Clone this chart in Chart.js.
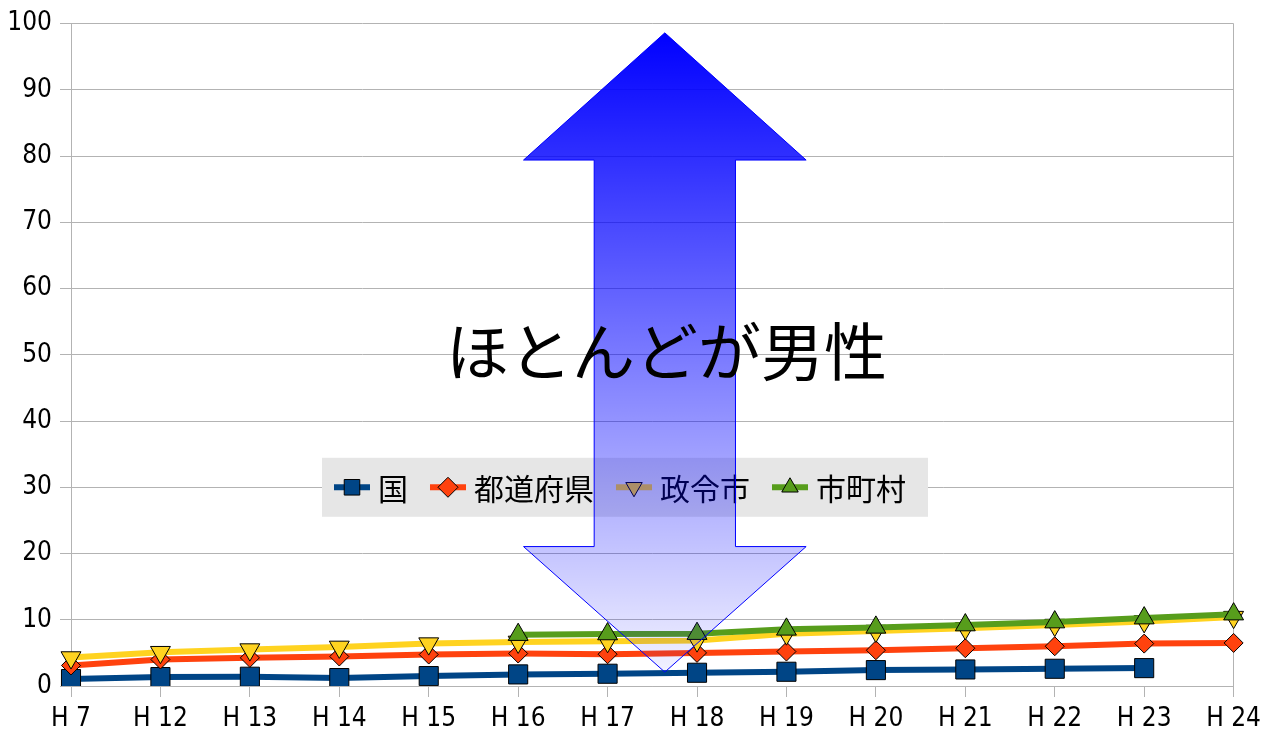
<!DOCTYPE html>
<html lang="ja">
<head>
<meta charset="utf-8">
<title>女性の割合の推移</title>
<script src="https://cdn.jsdelivr.net/npm/chart.js@4/dist/chart.umd.min.js"></script>
<style>
  body { margin: 0; background: #fff; }
  #contenitore { width: 1268px; height: 731px; }
</style>
</head>
<body>
<div id="contenitore"><canvas id="grafico" width="1268" height="731"></canvas></div>
<script>
// dati (%)
const anni = ['H 7', 'H 12', 'H 13', 'H 14', 'H 15', 'H 16', 'H 17', 'H 18', 'H 19', 'H 20', 'H 21', 'H 22', 'H 23', 'H 24'];
const nomiSerie = ['国', '都道府県', '政令市', '市町村'];
const kuni = [1.05, 1.35, 1.4, 1.2, 1.5, 1.75, 1.85, 2.0, 2.15, 2.4, 2.5, 2.6, 2.7, null];
const todofuken = [3.1, 4.0, 4.25, 4.45, 4.75, 4.9, 4.8, 5.0, 5.2, 5.4, 5.7, 6.0, 6.4, 6.5];
const seireishi = [4.3, 5.1, 5.5, 5.9, 6.4, 6.65, 6.75, 6.85, 7.9, 8.3, 8.7, 9.2, 9.75, 10.4];
const shichoson = [null, null, null, null, null, 7.75, 7.85, 7.9, 8.55, 8.85, 9.2, 9.65, 10.25, 10.85];
const tacche = [0, 10, 20, 30, 40, 50, 60, 70, 80, 90, 100];
const scritta = 'ほとんどが男性';

const fontAssi = '"Liberation Sans Narrow", "DejaVu Sans Condensed", sans-serif';
const fontCJK = '"Noto Sans CJK JP", sans-serif';
const grigio = '#b3b3b3';

// stile di ogni serie (linea + marker)
const stili = [
    { colore: '#004586', punto: 'rect', rot: 0, r: 13.5, rLeg: 11 },
    { colore: '#ff420e', punto: 'rectRot', rot: 0, r: 9.5, rLeg: 10 },
    { colore: '#ffd320', punto: 'triangle', rot: 180, r: 11.5, rLeg: 9.5 },
    { colore: '#579d1c', punto: 'triangle', rot: 0, r: 11.5, rLeg: 9.5 }
];
const valori = [kuni, todofuken, seireishi, shichoson];

const datasets = valori.map((v, i) => ({
    label: nomiSerie[i],
    data: v,
    borderColor: stili[i].colore,
    backgroundColor: stili[i].colore,
    borderWidth: 6,
    tension: 0,
    spanGaps: false,
    pointStyle: stili[i].punto,
    pointRotation: stili[i].rot,
    pointRadius: stili[i].r,
    pointBorderColor: '#000',
    pointBorderWidth: 1,
    pointBackgroundColor: stili[i].colore,
    order: 4 - i
}));

const sfondo = {
    id: 'sfondo',
    beforeDraw(chart) {
        const c = chart.ctx;
        c.save();
        c.fillStyle = '#fff';
        c.fillRect(0, 0, chart.width, chart.height);
        c.restore();
    }
};

// legenda disegnata a mano: linea con marker al centro, su fondo grigio
const legenda = {
    id: 'legenda',
    afterDatasetsDraw(chart) {
        const c = chart.ctx;
        const y = chart.scales.y.getPixelForValue(30);
        const sinistra = 322;
        c.save();
        c.font = '30px ' + fontCJK;
        let x = sinistra + 12;
        const pezzi = nomiSerie.map((nome, i) => {
            const p = { x: x, nome: nome, i: i };
            x += 36 + 8 + c.measureText(nome).width + 22;
            return p;
        });
        c.fillStyle = '#e6e6e6';
        c.fillRect(sinistra, y - 29.5, x - sinistra, 59);
        pezzi.forEach(p => {
            const s = stili[p.i];
            c.strokeStyle = s.colore;
            c.lineWidth = 6;
            c.beginPath();
            c.moveTo(p.x, y);
            c.lineTo(p.x + 36, y);
            c.stroke();
            c.fillStyle = s.colore;
            c.strokeStyle = '#000';
            c.lineWidth = 1;
            Chart.helpers.drawPoint(c, { pointStyle: s.punto, rotation: s.rot, radius: s.rLeg, borderWidth: 1 }, p.x + 18, y);
            c.fillStyle = '#000';
            c.textAlign = 'left';
            c.textBaseline = 'middle';
            c.fillText(p.nome, p.x + 44, y + 1);
        });
        c.restore();
    }
};

// freccia doppia sfumata e scritta sopra
const freccia = {
    id: 'freccia',
    afterDraw(chart) {
        const sx = chart.scales.x, sy = chart.scales.y;
        const c = chart.ctx;
        const xc = sx.getPixelForValue(6.64);
        const testa = sx.getPixelForValue(6.64 + 1.58) - xc;
        const asta = sx.getPixelForValue(6.64 + 0.79) - xc;
        const yTop = sy.getPixelForValue(98.6);
        const yTesta1 = sy.getPixelForValue(79.4);
        const yTesta2 = sy.getPixelForValue(21.05);
        const yBasso = sy.getPixelForValue(2.1);

        c.save();
        c.beginPath();
        c.moveTo(xc, yTop);
        c.lineTo(xc + testa, yTesta1);
        c.lineTo(xc + asta, yTesta1);
        c.lineTo(xc + asta, yTesta2);
        c.lineTo(xc + testa, yTesta2);
        c.lineTo(xc, yBasso);
        c.lineTo(xc - testa, yTesta2);
        c.lineTo(xc - asta, yTesta2);
        c.lineTo(xc - asta, yTesta1);
        c.lineTo(xc - testa, yTesta1);
        c.closePath();
        const grad = c.createLinearGradient(0, yTop, 0, yBasso);
        grad.addColorStop(0, 'rgba(0, 0, 255, 1)');
        grad.addColorStop(1, 'rgba(0, 0, 255, 0.05)');
        c.fillStyle = grad;
        c.fill();
        c.strokeStyle = '#0000ff';
        c.lineWidth = 1;
        c.stroke();

        c.fillStyle = '#000';
        c.font = '63px ' + fontCJK;
        c.textAlign = 'center';
        c.textBaseline = 'middle';
        c.fillText(scritta, sx.getPixelForValue(6.66), sy.getPixelForValue(50.5));
        c.restore();
    }
};

new Chart(document.getElementById('grafico'), {
    type: 'line',
    data: { labels: anni, datasets: datasets },
    plugins: [sfondo, legenda, freccia],
    options: {
        responsive: false,
        animation: false,
        layout: { padding: { top: 20, right: 34, left: 0, bottom: 0 } },
        plugins: { legend: { display: false }, tooltip: { enabled: false } },
        scales: {
            x: {
                offset: false,
                afterFit: s => { s.height = 45; },
                border: { color: grigio, width: 1 },
                grid: {
                    color: ctx => ctx.index === anni.length - 1 ? grigio : 'rgba(0,0,0,0)',
                    tickColor: grigio,
                    tickLength: 11,
                    lineWidth: 1
                },
                ticks: { color: '#000', font: { family: fontAssi, size: 26 }, padding: 7, maxRotation: 0, autoSkip: false }
            },
            y: {
                min: 0,
                max: 100,
                afterFit: s => { s.width = 71; },
                afterBuildTicks: s => { s.ticks = tacche.map(v => ({ value: v })); },
                border: { color: grigio, width: 1 },
                grid: { color: grigio, tickColor: grigio, tickLength: 11, lineWidth: 1 },
                ticks: { color: '#000', font: { family: fontAssi, size: 26 }, padding: 8 }
            }
        }
    }
});
</script>
</body>
</html>
